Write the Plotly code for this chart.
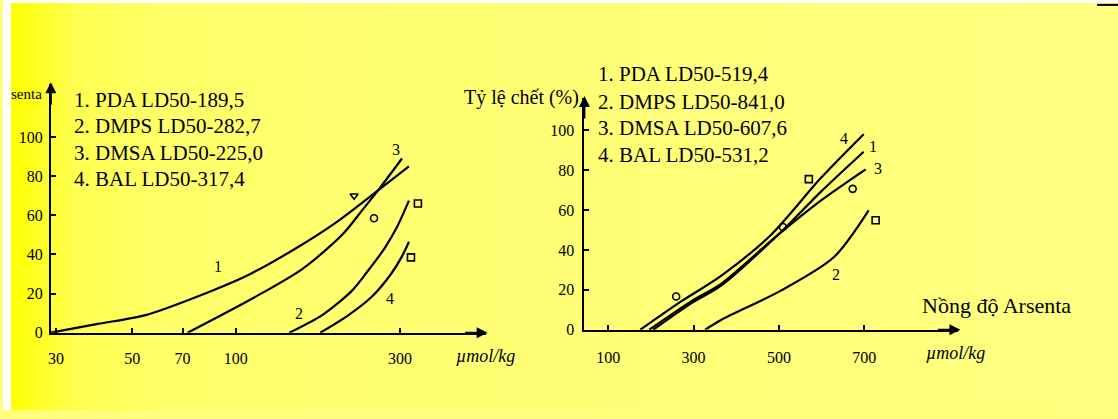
import numpy as np
import plotly.graph_objects as go

W, H = 1118, 419

# ---------------- Left panel: log dose (µmol/kg) vs mortality (%) ----------------
left_curve_names = ["1", "2", "3", "4"]
left_pda_dose = [29.0, 39.7, 54.7, 77.4, 108.7, 145.9, 194.4, 262.4, 318.5]
left_pda_pct = [0, 4.5, 9, 18.5, 29.5, 42, 56, 73.5, 85]
left_dmps_dose = [143.0, 178.2, 217.7, 240.6, 271.4, 294.0, 318.5]
left_dmps_pct = [0, 9, 21.5, 31, 43.5, 54, 67.5]
left_dmsa_dose = [72.4, 111.7, 155.9, 203.7, 232.8, 262.4, 304.0]
left_dmsa_pct = [0, 17.5, 32.5, 50, 62.5, 74, 89]
left_bal_dose = [175.9, 210.6, 248.8, 282.5, 304.0, 318.5]
left_bal_pct = [0, 8.5, 18.5, 30, 39, 46.5]

# point symbols near the upper ends of the left curves (PDA, DMPS, DMSA, BAL)
left_mark_dose = [220.7, 338.2, 252.1, 322.8]
left_mark_pct = [70, 66, 58.5, 38.5]
left_mark_symbol = ["triangle-down-open", "square-open", "circle-open", "square-open"]

# curve number labels (PDA, DMPS, DMSA, BAL)
left_label_dose = [89.0, 152.8, 292.1, 280.5]
left_label_pct = [34, 10, 93.5, 17.5]

left_legend = ["1. PDA LD50-189,5", "2. DMPS LD50-282,7",
               "3. DMSA LD50-225,0", "4. BAL LD50-317,4"]
left_xticks = [30, 50, 70, 100, 300]
left_yticks = [0, 20, 40, 60, 80, 100]

# ---------------- Right panel: linear dose vs mortality (%) ----------------
right_pda_dose = [205.6, 294.4, 364.5, 497.7, 598.1, 698.6]
right_pda_pct = [0, 13.2, 22.1, 47.5, 69.1, 89.2]
right_dmps_dose = [327.1, 364.5, 504.7, 628.5, 710.3]
right_dmps_pct = [0, 4.9, 19.6, 36.3, 59.8]
right_dmsa_dose = [196.3, 294.4, 364.5, 497.7, 598.1, 703.3]
right_dmsa_pct = [0, 14.2, 23.0, 47.5, 64.7, 80.4]
right_bal_dose = [175.2, 271.0, 364.5, 481.3, 598.1, 698.6]
right_bal_pct = [0, 14.2, 27.0, 47.5, 76.0, 98.0]

right_mark_dose = [726.6, 672.9, 570.1, 259.3, 509.3]
right_mark_pct = [54.9, 70.6, 75.5, 16.7, 51.5]
right_mark_symbol = ["square-open", "circle-open", "square-open", "circle-open", "circle-open"]

# curve number labels (PDA, DMPS, DMSA, BAL)
right_label_dose = [719.6, 633.2, 731.3, 651.9]
right_label_pct = [91.7, 27.9, 80.9, 95.6]

right_legend = ["1. PDA LD50-519,4", "2. DMPS LD50-841,0",
                "3. DMSA LD50-607,6", "4. BAL LD50-531,2"]
right_xticks = [100, 300, 500, 700]
right_yticks = [0, 20, 40, 60, 80, 100]

SERIF = "Liberation Serif"


def fx(px):
    return px / W


def fy(py):
    return 1 - py / H


fig = go.Figure()

line_style = dict(color="black", width=2.2, shape="spline", smoothing=0.8)
for xs, ys in [(left_pda_dose, left_pda_pct), (left_dmps_dose, left_dmps_pct),
               (left_dmsa_dose, left_dmsa_pct), (left_bal_dose, left_bal_pct)]:
    fig.add_trace(go.Scatter(x=xs, y=ys, mode="lines", line=line_style,
                             xaxis="x", yaxis="y", showlegend=False, hoverinfo="skip"))
fig.add_trace(go.Scatter(x=left_mark_dose, y=left_mark_pct, mode="markers",
                         marker=dict(symbol=left_mark_symbol, size=7, color="black",
                                     line=dict(color="black", width=1.6)),
                         xaxis="x", yaxis="y", showlegend=False, hoverinfo="skip"))

for xs, ys in [(right_pda_dose, right_pda_pct), (right_dmps_dose, right_dmps_pct),
               (right_dmsa_dose, right_dmsa_pct), (right_bal_dose, right_bal_pct)]:
    fig.add_trace(go.Scatter(x=xs, y=ys, mode="lines", line=line_style,
                             xaxis="x2", yaxis="y2", showlegend=False, hoverinfo="skip"))
fig.add_trace(go.Scatter(x=right_mark_dose, y=right_mark_pct, mode="markers",
                         marker=dict(symbol=right_mark_symbol, size=7, color="black",
                                     line=dict(color="black", width=1.6)),
                         xaxis="x2", yaxis="y2", showlegend=False, hoverinfo="skip"))

tick_font = dict(family=SERIF, size=16, color="black")
axis_common = dict(showline=True, linecolor="black", linewidth=2, showgrid=False,
                   zeroline=False, ticks="inside", ticklen=5, tickwidth=1.5,
                   tickcolor="black", tickfont=tick_font, fixedrange=True)

fig.update_layout(
    width=W, height=H, autosize=False,
    margin=dict(l=0, r=0, t=0, b=0, pad=0),
    paper_bgcolor="rgb(255,255,125)",
    plot_bgcolor="rgba(0,0,0,0)",
    xaxis=dict(domain=[fx(48), fx(484)], type="log",
               range=[np.log10(29.0), 2.7262], anchor="y",
               tickvals=left_xticks, ticktext=[str(v) for v in left_xticks],
               ticklabelstandoff=10, **axis_common),
    yaxis=dict(domain=[fy(340), fy(86)], range=[0, 127], anchor="x",
               tickvals=left_yticks, ticktext=[str(v) for v in left_yticks],
               ticklabelstandoff=3, **axis_common),
    xaxis2=dict(domain=[fx(583), fx(958)], range=[44.4, 920.6], anchor="y2",
                tickvals=right_xticks, ticktext=[str(v) for v in right_xticks],
                ticklabelstandoff=12, **axis_common),
    yaxis2=dict(domain=[fy(337), fy(100)], range=[0, 116.2], anchor="x2",
                tickvals=right_yticks, ticktext=[str(v) for v in right_yticks],
                ticklabelstandoff=5, **axis_common),
)

# yellow paper tone, deeper towards the left edge
stops = [(8, 0), (30, 30), (70, 80), (160, 105), (400, 115), (1118, 130)]
shapes = []
step = 6
for x0 in range(8, 1118, step):
    x1 = min(x0 + step, 1118)
    xm = (x0 + x1) / 2
    b = float(np.interp(xm, [s[0] for s in stops], [s[1] for s in stops]))
    shapes.append(dict(type="rect", xref="paper", yref="paper",
                       x0=fx(x0), x1=fx(x1) + 0.0005, y0=0, y1=fy(3),
                       fillcolor=f"rgb(255,255,{int(b)})", line=dict(width=0),
                       layer="below"))
shapes.append(dict(type="rect", xref="paper", yref="paper", x0=0, x1=fx(8),
                   y0=0, y1=1, fillcolor="white", line=dict(width=0), layer="below"))
shapes.append(dict(type="rect", xref="paper", yref="paper", x0=0, x1=1,
                   y0=fy(3), y1=1, fillcolor="white", line=dict(width=0), layer="below"))
shapes.append(dict(type="line", xref="paper", yref="paper", x0=fx(1097), x1=1,
                   y0=fy(5), y1=fy(5), line=dict(color="black", width=2)))
fig.update_layout(shapes=shapes)

ann = []
# axis arrowheads
for (hx, hy, ax, ay) in [(48, 84, 0, 24), (486, 340, -24, 0),
                         (583, 98, 0, 24), (960, 337, -24, 0)]:
    ann.append(dict(xref="paper", yref="paper", x=fx(hx), y=fy(hy), ax=ax, ay=ay,
                    axref="pixel", ayref="pixel", text="", showarrow=True,
                    arrowhead=2, arrowsize=1.1, arrowwidth=2, arrowcolor="black"))

legend_font = dict(family=SERIF, size=21, color="black")
for i, t in enumerate(left_legend):
    ann.append(dict(xref="paper", yref="paper", x=fx(69), y=fy([102, 129, 156, 183][i]),
                    xanchor="left", yanchor="middle", text=t, showarrow=False,
                    font=legend_font))
for i, t in enumerate(right_legend):
    ann.append(dict(xref="paper", yref="paper", x=fx(595), y=fy([76, 104, 131, 158][i]),
                    xanchor="left", yanchor="middle", text=t, showarrow=False,
                    font=legend_font))

label_font = dict(family=SERIF, size=16, color="black")
for name, dx, dy in zip(left_curve_names, left_label_dose, left_label_pct):
    ann.append(dict(xref="x", yref="y", x=np.log10(dx), y=dy, text=name,
                    showarrow=False, font=label_font))
for name, dx, dy in zip(left_curve_names, right_label_dose, right_label_pct):
    ann.append(dict(xref="x2", yref="y2", x=dx, y=dy, text=name,
                    showarrow=False, font=label_font))

# axis titles
ann.append(dict(xref="paper", yref="paper", x=fx(6), y=fy(96), xanchor="left",
                yanchor="middle", text="senta", showarrow=False,
                font=dict(family=SERIF, size=15, color="black")))
ann.append(dict(xref="paper", yref="paper", x=fx(580), y=fy(100), xanchor="right",
                yanchor="middle", text="Tỷ lệ chết (%)", showarrow=False,
                font=dict(family=SERIF, size=20, color="black")))
ann.append(dict(xref="paper", yref="paper", x=fx(996), y=fy(312), xanchor="center",
                yanchor="middle", text="Nồng độ Arsenta", showarrow=False,
                font=dict(family=SERIF, size=22, color="black")))
ann.append(dict(xref="paper", yref="paper", x=fx(484), y=fy(364), xanchor="center",
                yanchor="middle", text="<i>µmol/kg</i>", showarrow=False,
                font=dict(family=SERIF, size=18, color="black")))
ann.append(dict(xref="paper", yref="paper", x=fx(955), y=fy(361), xanchor="center",
                yanchor="middle", text="<i>µmol/kg</i>", showarrow=False,
                font=dict(family=SERIF, size=18, color="black")))

fig.update_layout(annotations=ann)

fig.write_html("out.html")
